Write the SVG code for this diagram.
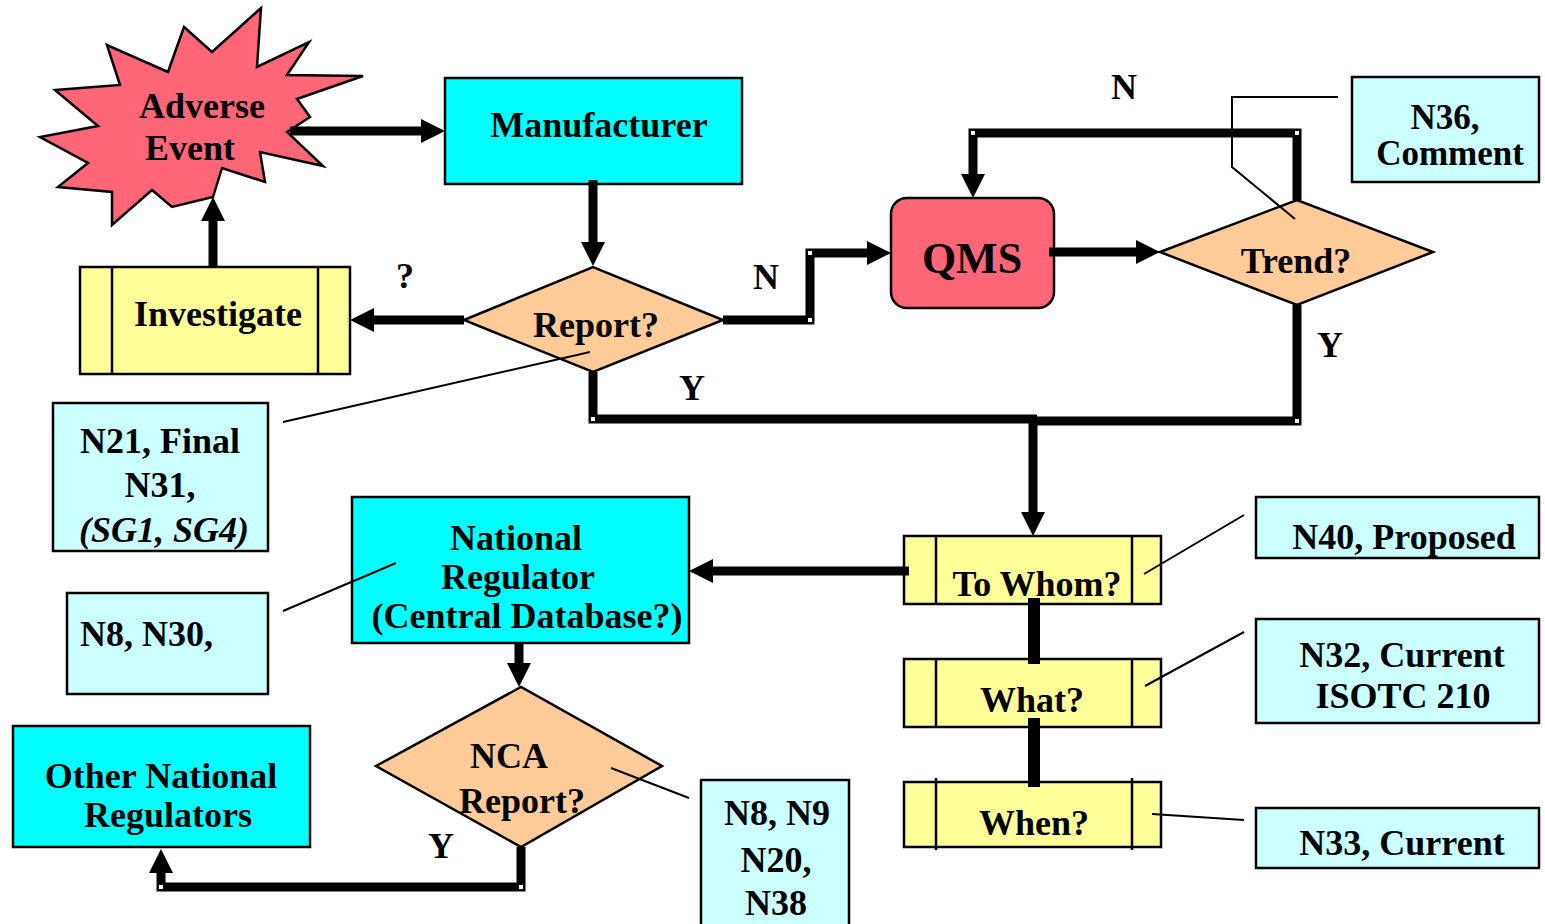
<svg xmlns="http://www.w3.org/2000/svg" width="1545" height="924" viewBox="0 0 1545 924">
<defs>
<style>
.t{font-family:"Liberation Serif","Times New Roman",serif;font-weight:bold;font-size:36px;fill:#000}
.c{text-anchor:middle}
.it{font-style:italic}
.cyan{fill:#00FFFF;stroke:#000;stroke-width:2.5}
.note{fill:#CCFFFF;stroke:#000;stroke-width:2.5}
.yel{fill:#FFFF99;stroke:#000;stroke-width:2.5}
.dia{fill:#FFCC99;stroke:#000;stroke-width:2.5}
.red{fill:#FF6677;stroke:#000;stroke-width:2.5}
.ln{fill:none;stroke:#000;stroke-width:2.5}
.con{fill:none;stroke:#000;stroke-width:9}
.bar{fill:none;stroke:#000;stroke-width:12}
.call{fill:none;stroke:#000;stroke-width:2}
.dot{fill:#fff}
</style>
<marker id="ah" viewBox="0 0 24 24" markerWidth="24" markerHeight="24" markerUnits="userSpaceOnUse" refX="8" refY="12" orient="auto">
<path d="M0,0 L24,12 L0,24 z" fill="#000"/>
</marker>
</defs>
<rect width="1545" height="924" fill="#fff"/>

<g id="adverse-event">
<path class="red" d="M261,8 L257,67 L309,42 L287,75 L363,76 L297,99 L310,117 L287,132 L323,166 L260,152 L265,182 L222,168 L213,197 L172,207 L152,190 L112,225 L112,192 L58,187 L88,163 L40,137 L98,126 L55,90 L120,85 L107,45 L168,72 L184,27 L212,52 Z"/>
<text class="t c" x="202" y="118">Adverse</text>
<text class="t c" x="190" y="160">Event</text>
</g>

<g id="manufacturer">
<rect class="cyan" x="445" y="78" width="297" height="106"/>
<text class="t c" x="599" y="137">Manufacturer</text>
</g>

<g id="report">
<path class="dia" d="M464,320 L593,267 L723,320 L593,372 Z"/>
<text class="t c" x="596" y="337">Report?</text>
</g>

<g id="investigate">
<rect class="yel" x="80" y="267" width="270" height="107"/>
<path class="ln" d="M112,267 V374 M318,267 V374"/>
<text class="t c" x="218" y="326">Investigate</text>
</g>

<g id="qms">
<rect class="red" x="891" y="198" width="163" height="110" rx="16" ry="16"/>
<text class="t c" x="972" y="273" style="font-size:44px">QMS</text>
</g>

<g id="trend">
<path class="dia" d="M1160,252 L1297,200 L1433,252 L1297,305 Z"/>
<text class="t c" x="1296" y="273">Trend?</text>
</g>

<g id="n36">
<rect class="note" x="1352" y="77" width="187" height="105"/>
<text class="t c" x="1445" y="129" style="font-size:35px">N36,</text>
<text class="t c" x="1450" y="165" style="font-size:35px">Comment</text>
</g>

<g id="n21">
<rect class="note" x="53" y="403" width="215" height="148"/>
<text class="t c" x="160" y="453">N21, Final</text>
<text class="t c" x="160" y="497">N31,</text>
<text class="t c it" x="164" y="542">(SG1, SG4)</text>
</g>

<g id="national-regulator">
<rect class="cyan" x="352" y="497" width="337" height="146"/>
<text class="t c" x="516" y="550">National</text>
<text class="t c" x="518" y="589">Regulator</text>
<text class="t c" x="527" y="628">(Central Database?)</text>
</g>

<g id="n8-n30">
<rect class="note" x="67" y="593" width="201" height="101"/>
<text class="t" x="80" y="646">N8, N30,</text>
</g>

<g id="nca-report">
<path class="dia" d="M376,766 L521,687 L662,766 L521,847 Z"/>
<text class="t c" x="509" y="768">NCA</text>
<text class="t c" x="522" y="813">Report?</text>
</g>

<g id="n8-n9">
<rect class="note" x="701" y="780" width="148" height="160"/>
<text class="t c" x="777" y="825">N8, N9</text>
<text class="t c" x="776" y="872">N20,</text>
<text class="t c" x="776" y="915">N38</text>
</g>

<g id="other-national">
<rect class="cyan" x="13" y="726" width="297" height="121"/>
<text class="t c" x="161" y="788">Other National</text>
<text class="t c" x="168" y="827">Regulators</text>
</g>

<g id="to-whom">
<rect class="yel" x="904" y="536" width="257" height="68"/>
<path class="ln" d="M936,536 V604 M1132,536 V604"/>
<text class="t c" x="1037" y="596">To Whom?</text>
</g>

<g id="what">
<rect class="yel" x="904" y="659" width="257" height="68"/>
<path class="ln" d="M936,659 V727 M1132,659 V727"/>
<text class="t c" x="1032" y="712">What?</text>
</g>

<g id="when">
<rect class="yel" x="904" y="782" width="257" height="65"/>
<path class="ln" d="M936,778 V850 M1132,778 V850"/>
<text class="t c" x="1034" y="835">When?</text>
</g>

<g id="n40">
<rect class="note" x="1256" y="497" width="283" height="61"/>
<text class="t c" x="1404" y="549">N40, Proposed</text>
</g>

<g id="n32">
<rect class="note" x="1256" y="619" width="283" height="104"/>
<text class="t c" x="1402" y="667">N32, Current</text>
<text class="t c" x="1403" y="708">ISOTC 210</text>
</g>

<g id="n33">
<rect class="note" x="1256" y="808" width="283" height="60"/>
<text class="t c" x="1402" y="855">N33, Current</text>
</g>

<g id="connectors">
<path class="con" d="M290,131 H429" marker-end="url(#ah)"/>
<path class="con" d="M593,180 V250" marker-end="url(#ah)"/>
<path class="con" d="M464,320 H366" marker-end="url(#ah)"/>
<path class="con" d="M213,267 V213" marker-end="url(#ah)"/>
<path class="con" d="M723,320 H810 V253 H875" marker-end="url(#ah)"/>
<path class="con" d="M1049,252 H1144" marker-end="url(#ah)"/>
<path class="con" d="M1297,200 V133 H973 V182" marker-end="url(#ah)"/>
<path class="con" d="M593,372 V419 H1037"/>
<path class="con" d="M1297,305 V421 H1029"/>
<path class="con" d="M1033,417 V520" marker-end="url(#ah)"/>
<path class="con" d="M909,571 H705" marker-end="url(#ah)"/>
<path class="bar" d="M1034,598 V664"/>
<path class="bar" d="M1034,718 V787"/>
<path class="con" d="M519,643 V671" marker-end="url(#ah)"/>
<path class="con" d="M521,847 V887 H161 V865" marker-end="url(#ah)"/>
<rect class="dot" x="808" y="318" width="4" height="4"/>
<rect class="dot" x="808" y="251" width="4" height="4"/>
<rect class="dot" x="971" y="131" width="4" height="4"/>
<rect class="dot" x="1295" y="131" width="4" height="4"/>
<rect class="dot" x="1295" y="419" width="4" height="4"/>
<rect class="dot" x="591" y="417" width="4" height="4"/>
<rect class="dot" x="519" y="885" width="4" height="4"/>
<rect class="dot" x="159" y="885" width="4" height="4"/>
<path class="call" d="M1338,97 H1232 V167 L1295,219"/>
<path class="call" d="M283,422 L590,352"/>
<path class="call" d="M283,611 L396,563"/>
<path class="call" d="M611,768 L689,798"/>
<path class="call" d="M1144,574 L1244,515"/>
<path class="call" d="M1145,686 L1244,632"/>
<path class="call" d="M1152,814 L1244,820"/>
</g>

<g id="labels">
<text class="t c" x="766" y="289">N</text>
<text class="t c" x="1124" y="99">N</text>
<text class="t c" x="405" y="288">?</text>
<text class="t c" x="692" y="400">Y</text>
<text class="t c" x="1330" y="357">Y</text>
<text class="t c" x="441" y="858">Y</text>
</g>
</svg>
